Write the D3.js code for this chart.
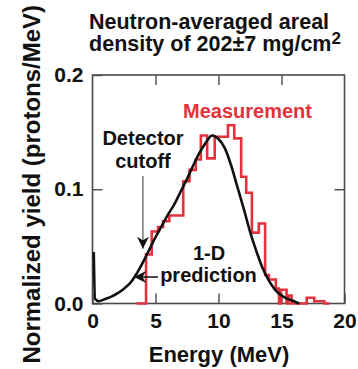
<!DOCTYPE html>
<html>
<head>
<meta charset="utf-8">
<script src="https://cdn.jsdelivr.net/npm/d3@7"></script>
<style>
    body { margin: 0; background: #fff; }
    text { font-family: "Liberation Sans", Arial, sans-serif; font-weight: bold; }
</style>
</head>
<body>
<svg></svg>
<script>

/*
*   Data
*/

// 1-D prediction (black curve)
const predEnergy = [0.1, 0.2, 0.5, 1, 1.5, 2, 2.5, 3, 3.5, 4, 4.5, 5, 5.5, 6, 6.5, 7, 7.5, 8, 8.5, 9, 9.5, 10, 10.5, 11, 11.5, 12, 12.5, 13, 13.5, 14, 14.5, 15, 15.5, 16, 16.4]
const predYield = [0.045, 0.004, 0.002, 0.004, 0.006, 0.009, 0.013, 0.018, 0.026, 0.036, 0.047, 0.058, 0.068, 0.078, 0.087, 0.098, 0.109, 0.121, 0.132, 0.141, 0.147, 0.144, 0.136, 0.121, 0.102, 0.083, 0.063, 0.046, 0.031, 0.020, 0.012, 0.007, 0.004, 0.002, 0.0]

// Measurement histogram (red): left bin edges and bin heights
const measEdges = [3.5, 4.25, 4.7, 5.2, 5.6, 6.1, 6.65, 7.2, 7.7, 8.2, 8.6, 9.1, 9.7, 10.3, 10.75, 11.25, 11.8, 12.2, 12.65, 13.2, 13.7, 14.0, 14.55, 14.8, 14.95, 15.4, 15.55, 15.8, 17.0, 17.6, 18.4, 18.8]
const measYield = [0, 0.043, 0.063, 0.067, 0.072, 0.077, 0.077, 0.107, 0.117, 0.126, 0.147, 0.127, 0.146, 0.146, 0.156, 0.1445, 0.111, 0.097, 0.062, 0.070, 0.025, 0.021, 0.013, 0, 0.012, 0, 0.007, 0, 0.005, 0.002, 0, 0]

// Axis ticks
const xTicks = [0, 5, 10, 15, 20]
const yTicks = [0, 0.1, 0.2]
const yTickLabels = ['0.0', '0.1', '0.2']


/*
*   Constants
*/

const WIDTH = 358
const HEIGHT = 369
const MARGIN = { left: 92.5, right: 13.5, top: 75, bottom: 65.5 }
const RED = '#e3323b'
const FRAME = '#4a4a4a'
const TICK_LEN = 10

const svg = d3.select('svg')
    .attr('width', WIDTH)
    .attr('height', HEIGHT)

const x = d3.scaleLinear().domain([0, 20]).range([MARGIN.left, WIDTH - MARGIN.right])
const y = d3.scaleLinear().domain([0, 0.2]).range([HEIGHT - MARGIN.bottom, MARGIN.top])


/*
*   Arrowhead marker
*/

svg.append('defs').append('marker')
    .attr('id', 'head')
    .attr('viewBox', '0 0 10 10')
    .attr('refX', 10)
    .attr('refY', 5)
    .attr('markerUnits', 'userSpaceOnUse')
    .attr('markerWidth', 14)
    .attr('markerHeight', 12)
    .attr('orient', 'auto')
    .append('path')
    .attr('d', 'M0,0 L10,5 L0,10 L3,5 Z')
    .attr('fill', '#111')


/*
*   Frame and ticks
*/

svg.append('rect')
    .attr('x', x(0))
    .attr('y', y(0.2))
    .attr('width', x(20) - x(0))
    .attr('height', y(0) - y(0.2))
    .attr('fill', 'none')
    .attr('stroke', FRAME)
    .attr('stroke-width', 1.6)

const xAxisB = d3.axisBottom(x).tickValues(xTicks).tickSize(-TICK_LEN).tickPadding(10).tickFormat(d3.format('d'))
const xAxisT = d3.axisTop(x).tickValues(xTicks.slice(1, -1)).tickSize(-TICK_LEN).tickFormat('')
const yAxisL = d3.axisLeft(y).tickValues(yTicks).tickSize(-TICK_LEN).tickPadding(9).tickFormat((d, i) => yTickLabels[i])
const yAxisR = d3.axisRight(y).tickValues(yTicks.slice(1, -1)).tickSize(-TICK_LEN).tickFormat('')

const styleAxis = g => {
    g.select('.domain').remove()
    g.selectAll('.tick line').attr('stroke', FRAME).attr('stroke-width', 1.4)
    g.selectAll('.tick text').attr('fill', '#111').style('font-size', '21px')
}

svg.append('g').attr('transform', `translate(0,${y(0)})`).call(xAxisB).call(styleAxis)
svg.append('g').attr('transform', `translate(0,${y(0.2)})`).call(xAxisT).call(styleAxis)
svg.append('g').attr('transform', `translate(${x(0)},0)`).call(yAxisL).call(styleAxis)
svg.append('g').attr('transform', `translate(${x(20)},0)`).call(yAxisR).call(styleAxis)


/*
*   Series
*/

const predLine = d3.line()
    .x(d => x(d[0]))
    .y(d => y(d[1]))
    .curve(d3.curveMonotoneX)

const measLine = d3.line()
    .x(d => x(d[0]))
    .y(d => y(d[1]))
    .curve(d3.curveStepAfter)

svg.append('path')
    .datum(d3.zip(measEdges, measYield))
    .attr('d', measLine)
    .attr('fill', 'none')
    .attr('stroke', RED)
    .attr('stroke-width', 2.6)
    .attr('stroke-linejoin', 'miter')

svg.append('path')
    .datum(d3.zip(predEnergy, predYield))
    .attr('d', predLine)
    .attr('fill', 'none')
    .attr('stroke', '#111')
    .attr('stroke-width', 2.6)


/*
*   Annotations
*/

const label = (tx, ty, str, size, color) => svg.append('text')
    .attr('x', tx)
    .attr('y', ty)
    .attr('text-anchor', 'middle')
    .attr('fill', color || '#111')
    .style('font-size', size + 'px')
    .text(str)

label(247.5, 118, 'Measurement', 20, RED)
label(143, 145, 'Detector', 20)
label(143, 168, 'cutoff', 20)
label(209, 260, '1-D', 20)
label(208.5, 282, 'prediction', 20)

svg.append('line')
    .attr('x1', x(4)).attr('y1', 176)
    .attr('x2', x(4)).attr('y2', y(0.048))
    .attr('stroke', '#777')
    .attr('stroke-width', 1.5)
    .attr('marker-end', 'url(#head)')

svg.append('line')
    .attr('x1', 158).attr('y1', 277)
    .attr('x2', x(3.3)).attr('y2', 277)
    .attr('stroke', '#111')
    .attr('stroke-width', 1.5)
    .attr('marker-end', 'url(#head)')


/*
*   Titles
*/

label(209, 29, 'Neutron-averaged areal', 21.5)
const t2 = label(215, 51, 'density of 202\u00b17 mg/cm', 21.5)
t2.append('tspan').attr('dy', -7).style('font-size', '17px').text('2')

label(219, 362, 'Energy (MeV)', 22)

svg.append('text')
    .attr('transform', `translate(40,${(y(0) + y(0.2)) / 2 - 5}) rotate(-90)`)
    .attr('text-anchor', 'middle')
    .attr('fill', '#111')
    .style('font-size', '24px')
    .text('Normalized yield (protons/MeV)')

</script>
</body>
</html>
